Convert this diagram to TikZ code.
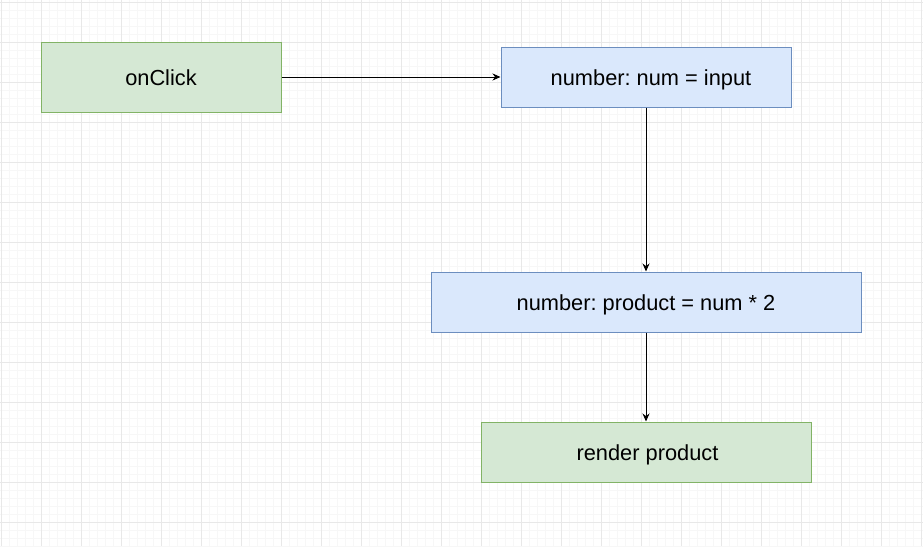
\documentclass[tikz,border=0pt]{standalone}
\usepackage{fontspec}
\setmainfont{Liberation Sans}
\usepackage{tikz}
\usetikzlibrary{positioning}
\usetikzlibrary{arrows.meta}

\definecolor{greenfill}{HTML}{D5E8D4}
\definecolor{greenline}{HTML}{82B366}
\definecolor{bluefill}{HTML}{DAE8FC}
\definecolor{blueline}{HTML}{6C8EBF}
\definecolor{gridminor}{HTML}{F7F7F7}
\definecolor{gridmajor}{HTML}{E8E8E8}

\tikzset{
    greenbox/.style={draw=greenline, fill=greenfill, line width=1pt,
        inner sep=0pt, text height=16pt, text depth=0pt,
        font=\fontsize{21.8}{26}\selectfont\frenchspacing},
    bluebox/.style={draw=blueline, fill=bluefill, line width=1pt,
        inner sep=0pt, text height=16pt, text depth=0pt,
        font=\fontsize{21.8}{26}\selectfont\frenchspacing},
    flow/.style={line width=1pt, -{Stealth[length=8pt,width=7pt]}}
}

\begin{document}
\begin{tikzpicture}[x=1pt,y=-1pt]
        \useasboundingbox (0,0) rectangle (923,546);
        \fill[white] (0,0) rectangle (923,546);
        % background grid
        \foreach \gx in {1,9,...,921}
            \draw[gridminor, line width=1pt] (\gx,0) -- (\gx,546);
        \foreach \gy in {2,10,...,546}
            \draw[gridminor, line width=1pt] (0,\gy) -- (923,\gy);
        \foreach \gx in {1,41,...,921}
            \draw[gridmajor, line width=1pt] (\gx,0) -- (\gx,546);
        \foreach \gy in {2,42,...,546}
            \draw[gridmajor, line width=1pt] (0,\gy) -- (923,\gy);

        \node[greenbox, minimum width=240pt, minimum height=70pt]
            (click) at (161,77) {onClick};
        \node[bluebox, minimum width=290pt, minimum height=60pt]
            (num) at (646,77) {\hspace{10pt}number: num = input};
        \node[bluebox, minimum width=430pt, minimum height=60pt]
            (product) at (646,302) {number: product = num * 2};
        \node[greenbox, minimum width=330pt, minimum height=60pt]
            (render) at (646,452) {\hspace{3pt}render product};

        \draw[flow] (click) -- (num);
        \draw[flow] (num) -- (product);
        \draw[flow] (product) -- (render);
    \end{tikzpicture}
\end{document}
